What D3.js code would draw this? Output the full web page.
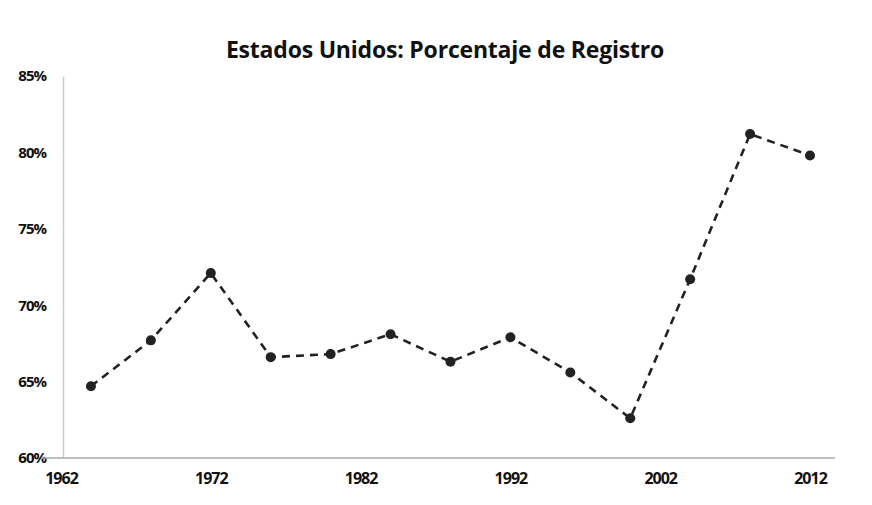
<!DOCTYPE html>
<html>
<head>
<meta charset="utf-8">
<script src="https://cdn.jsdelivr.net/npm/d3@7"></script>
<style>
  body { margin: 0; background: #fff; }
  svg { display: block; font-family: 'Open Sans', sans-serif; }
</style>
</head>
<body>
<div id="graf"></div>
<script>
// datos
const titulo = 'Estados Unidos: Porcentaje de Registro'
const anios = [1964, 1968, 1972, 1976, 1980, 1984, 1988, 1992, 1996, 2000, 2004, 2008, 2012]
const registro = [64.7, 67.7, 72.1, 66.6, 66.8, 68.1, 66.3, 67.9, 65.6, 62.6, 71.7, 81.2, 79.8]
const ticksX = [1962, 1972, 1982, 1992, 2002, 2012]
const ticksY = [60, 65, 70, 75, 80, 85]

const anchoTotal = 872
const altoTotal = 505

const svg = d3.select('#graf')
  .append('svg')
  .attr('width', anchoTotal)
  .attr('height', altoTotal)

const margin = { top: 76, bottom: 47, left: 63, right: 37 }

// !ESCALADORES
const x = d3.scaleLinear().domain([1962, 2012]).range([61, 810])
const y = d3.scaleLinear().domain([60, 85]).range([altoTotal - margin.bottom, margin.top])

svg.append('text')
  .attr('x', 445)
  .attr('y', 58)
  .attr('text-anchor', 'middle')
  .attr('font-size', 23)
  .attr('font-weight', 'bold')
  .attr('fill', '#111')
  .attr('letter-spacing', -0.2)
  .text(titulo)

// eje Y
const ejeY = svg.append('g')
  .attr('transform', `translate(${margin.left}, 0)`)
  .call(d3.axisLeft(y).tickValues(ticksY).tickSize(0).tickPadding(17).tickFormat((d) => d + '%'))
ejeY.select('.domain').attr('stroke', '#ccc').attr('stroke-width', 1.5)
ejeY.selectAll('text')
  .attr('font-size', 15)
  .attr('font-weight', 'bold')
  .attr('fill', '#111')
  .attr('font-family', 'Open Sans, sans-serif')
  .attr('letter-spacing', -1)

// eje X
const ejeX = svg.append('g')
  .attr('transform', `translate(0, ${y(60)})`)
  .call(d3.axisBottom(x).tickValues(ticksX).tickSize(0).tickPadding(15).tickFormat(d3.format('d')))
ejeX.select('.domain').remove()
ejeX.append('line')
  .attr('x1', margin.left - 22)
  .attr('x2', anchoTotal - margin.right)
  .attr('stroke', '#aaa')
  .attr('stroke-width', 1.5)
ejeX.selectAll('text')
  .attr('font-size', 16)
  .attr('font-weight', 'bold')
  .attr('fill', '#111')
  .attr('font-family', 'Open Sans, sans-serif')
  .attr('letter-spacing', -1)

const datos = anios.map((a, i) => ({ anio: a, valor: registro[i] }))

const linea = d3.line()
  .x((d) => x(d.anio))
  .y((d) => y(d.valor))

svg.append('path')
  .datum(datos)
  .attr('d', linea)
  .attr('fill', 'none')
  .attr('stroke', '#222')
  .attr('stroke-width', 2.6)
  .attr('stroke-dasharray', '8,6')

svg.selectAll('circle.punto')
  .data(datos)
  .enter()
  .append('circle')
  .attr('class', 'punto')
  .attr('cx', (d) => x(d.anio))
  .attr('cy', (d) => y(d.valor))
  .attr('r', 5)
  .attr('fill', '#222')
</script>
</body>
</html>
